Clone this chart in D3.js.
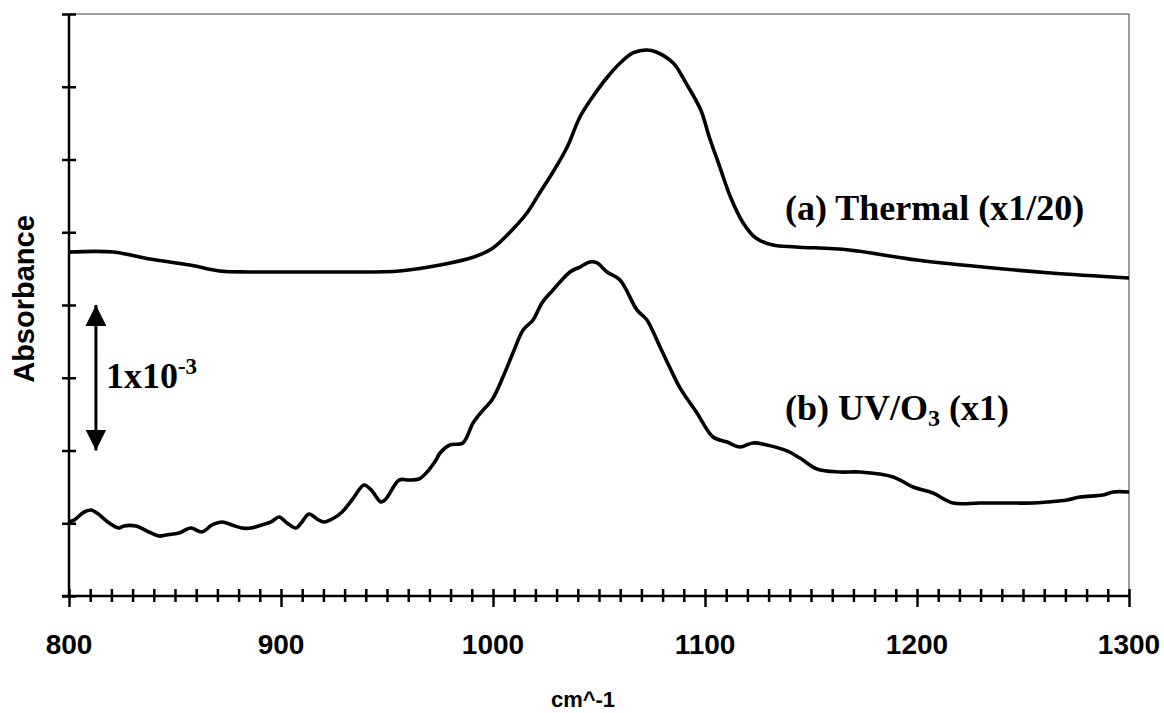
<!DOCTYPE html>
<html>
<head>
<meta charset="utf-8">
<script src="https://cdn.jsdelivr.net/npm/d3@7"></script>
<style>
  body { margin: 0; background: #fff; }
  svg { display: block; }
  .tick-label { font-family: "Liberation Sans", Arial, sans-serif; font-weight: bold; }
  .note { font-family: "Liberation Serif", "Times New Roman", serif; font-weight: bold; }
</style>
</head>
<body>
<svg id="chart" width="1164" height="713"></svg>
<script>
// wavenumber (cm^-1) and absorbance (x10^-3, offset)
const thermalX = [800, 821, 838, 857, 871, 885, 909, 932, 956, 975, 991, 1000, 1009, 1016, 1022,
  1028, 1035, 1041, 1047, 1054, 1060, 1066, 1072.6, 1077, 1085, 1091, 1098, 1102, 1107, 1112,
  1118, 1124, 1132, 1143, 1168, 1200, 1231, 1263, 1300];
const thermalY = [2.364, 2.364, 2.316, 2.275, 2.234, 2.227, 2.227, 2.227, 2.234, 2.275, 2.330,
  2.392, 2.515, 2.632, 2.770, 2.907, 3.086, 3.292, 3.430, 3.567, 3.663, 3.732, 3.753, 3.739,
  3.663, 3.526, 3.340, 3.155, 2.948, 2.742, 2.564, 2.460, 2.412, 2.399, 2.378, 2.309, 2.261,
  2.220, 2.186];

const uvX = [800, 802.4, 807.1, 810.4, 813.2, 818.9, 823.6, 825.9, 831.6, 837.7, 842.5, 845.8,
  851.9, 857.5, 862.7, 867.5, 872.2, 876.9, 881.6, 885.8, 891, 895.3, 899.1, 902.8, 907.1,
  909.9, 913.2, 917, 920.3, 925, 928.8, 933.5, 939.2, 942.5, 947.2, 949.5, 955.7, 960.4,
  965.1, 968.9, 973.1, 975, 979.7, 985.8, 990.6, 995.3, 999.5, 1004.7, 1009.4, 1014.2,
  1018.9, 1023.1, 1028.3, 1036.3, 1041, 1045.8, 1049.1, 1053.8, 1059.9, 1067.9, 1072.6,
  1078.8, 1083.5, 1088.2, 1096.2, 1103.8, 1110.4, 1116.5, 1122.6, 1129.2, 1138.7, 1144.8,
  1152.8, 1163.7, 1173.1, 1188.7, 1198.1, 1207.5, 1217, 1229.7, 1245.3, 1254.7, 1261.3,
  1270.8, 1276.9, 1287.7, 1292.5, 1300];
const uvY = [0.511, 0.522, 0.577, 0.591, 0.570, 0.502, 0.467, 0.481, 0.481, 0.440, 0.412, 0.419,
  0.433, 0.467, 0.440, 0.488, 0.509, 0.488, 0.467, 0.467, 0.488, 0.509, 0.543, 0.502, 0.467,
  0.509, 0.564, 0.529, 0.509, 0.536, 0.577, 0.660, 0.763, 0.729, 0.646, 0.667, 0.797, 0.797,
  0.804, 0.852, 0.935, 0.983, 1.038, 1.052, 1.189, 1.278, 1.347, 1.505, 1.670, 1.828,
  1.897, 2.014, 2.103, 2.227, 2.261, 2.296, 2.289, 2.227, 2.172, 1.966, 1.897,
  1.711, 1.567, 1.430, 1.258, 1.093, 1.058, 1.024, 1.052, 1.038, 0.997, 0.948,
  0.873, 0.852, 0.852, 0.818, 0.749, 0.708, 0.639, 0.639, 0.639, 0.639, 0.646,
  0.660, 0.680, 0.694, 0.715, 0.715];

const xMajorTicks = [800, 900, 1000, 1100, 1200, 1300];
const xMinorTicks = d3.range(800, 1301, 10);
const yTicks = [0, 0.5, 1, 1.5, 2, 2.5, 3, 3.5, 4];

const labels = [
  {x: 1137.7, y: 2.584, parts: [{t: '(a) Thermal (x1/20)'}]},
  {x: 1137.7, y: 1.21, parts: [{t: '(b) UV/O'}, {t: '3', sub: true}, {t: ' (x1)', back: true}]}
];
const scaleBar = {x: 812.7, y0: 1.0, y1: 2.0};

const margin = {top: 14, right: 35, bottom: 117, left: 69};
const width = 1164 - margin.left - margin.right;
const height = 713 - margin.top - margin.bottom;

const svg = d3.select('#chart');
const g = svg.append('g').attr('transform', `translate(${margin.left},${margin.top})`);

const x = d3.scaleLinear().domain([800, 1300]).range([0, width]);
const y = d3.scaleLinear().domain([0, 4]).range([height, 0]);

// grey frame on top and right
g.append('path')
  .attr('d', `M0,0H${width}V${height}`)
  .attr('fill', 'none')
  .attr('stroke', '#808080')
  .attr('stroke-width', 1.5);

// y axis, ticks cross the line
const yAxis = g.append('g')
  .call(d3.axisLeft(y).tickValues(yTicks).tickSize(7).tickFormat(''));
yAxis.select('.domain').attr('d', `M0,0V${height}`).attr('stroke-width', 2.5);
yAxis.selectAll('.tick line').attr('x1', 7).attr('x2', -7).attr('stroke-width', 2.5);

// x axis: minor ticks + longer major ticks
const xAxis = g.append('g')
  .attr('transform', `translate(0,${height})`)
  .call(d3.axisBottom(x).tickValues(xMinorTicks).tickSize(6).tickFormat(''));
xAxis.select('.domain').attr('d', `M-7,0H${width}`).attr('stroke-width', 2.5);
xAxis.selectAll('.tick line')
  .attr('y1', -7)
  .attr('y2', d => xMajorTicks.includes(d) ? 11 : 6)
  .attr('stroke-width', 2.5);

g.append('g').selectAll('text')
  .data(xMajorTicks)
  .join('text')
  .attr('class', 'tick-label')
  .attr('x', d => x(d))
  .attr('y', height + 58)
  .attr('text-anchor', 'middle')
  .attr('font-size', 28)
  .text(d => d);

// axis titles
svg.append('text')
  .attr('class', 'tick-label')
  .attr('transform', 'translate(34,299) rotate(-90)')
  .attr('text-anchor', 'middle')
  .attr('font-size', 29)
  .text('Absorbance');

svg.append('text')
  .attr('class', 'tick-label')
  .attr('x', 583)
  .attr('y', 707)
  .attr('text-anchor', 'middle')
  .attr('font-size', 22)
  .text('cm^-1');

// spectra
const line = d3.line()
  .x(d => x(d[0]))
  .y(d => y(d[1]))
  .curve(d3.curveCatmullRom.alpha(0.5));

[[thermalX, thermalY], [uvX, uvY]].forEach(([xs, ys]) => {
  g.append('path')
    .datum(xs.map((v, i) => [v, ys[i]]))
    .attr('fill', 'none')
    .attr('stroke', '#000')
    .attr('stroke-width', 3.6)
    .attr('stroke-linejoin', 'round')
    .attr('d', line);
});

// curve labels
labels.forEach(l => {
  const t = g.append('text')
    .attr('class', 'note')
    .attr('x', x(l.x))
    .attr('y', y(l.y))
    .attr('font-size', 36);
  l.parts.forEach(p => {
    const s = t.append('tspan').text(p.t);
    if (p.sub) s.attr('font-size', 24).attr('dy', 6);
    if (p.back) s.attr('dy', -6);
  });
});

// 1x10^-3 scale bar with arrows
const bx = x(scaleBar.x);
const defs = svg.append('defs');
defs.append('marker')
  .attr('id', 'tri')
  .attr('viewBox', '0 0 10 10')
  .attr('refX', 10).attr('refY', 5)
  .attr('markerWidth', 7).attr('markerHeight', 7)
  .attr('markerUnits', 'strokeWidth')
  .attr('orient', 'auto-start-reverse')
  .append('path').attr('d', 'M0,0L10,5L0,10Z').attr('fill', '#000');

g.append('line')
  .attr('x1', bx).attr('x2', bx)
  .attr('y1', y(scaleBar.y1)).attr('y2', y(scaleBar.y0))
  .attr('stroke', '#000')
  .attr('stroke-width', 3)
  .attr('marker-start', 'url(#tri)')
  .attr('marker-end', 'url(#tri)');

const sb = g.append('text')
  .attr('class', 'note')
  .attr('x', bx + 10)
  .attr('y', y((scaleBar.y0 + scaleBar.y1) / 2) + 10)
  .attr('font-size', 36);
sb.append('tspan').text('1x10');
sb.append('tspan').text('-3').attr('font-size', 23).attr('dy', -14);
</script>
</body>
</html>
